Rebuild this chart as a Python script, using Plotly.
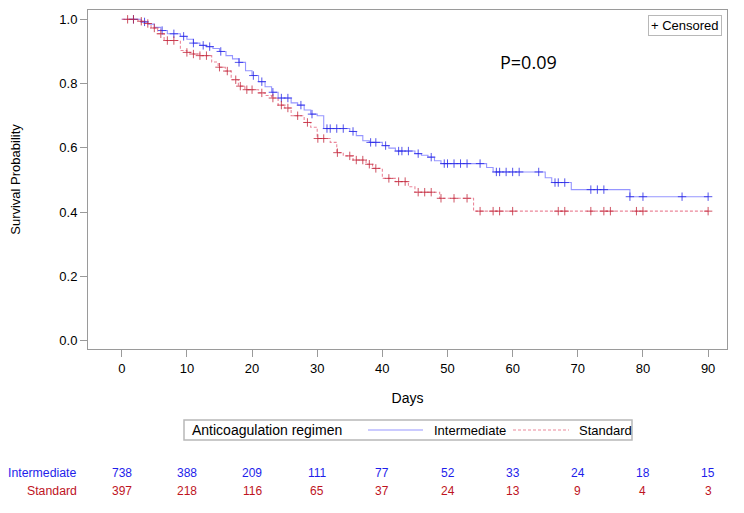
import numpy as np
import plotly.graph_objects as go

# ---------------- data ----------------
day_ticks = [0, 10, 20, 30, 40, 50, 60, 70, 80, 90]
y_ticks = [0.0, 0.2, 0.4, 0.6, 0.8, 1.0]

int_event_days = [0, 3, 4, 5, 6, 7, 9, 10, 11, 12, 13, 14, 15, 16, 17, 18, 19, 20,
                  21, 22, 23, 24, 26, 27, 28, 29, 30, 31, 35, 36, 37, 38, 40, 41, 42,
                  45, 46, 47, 48, 49, 56, 57, 65, 66, 69, 78]
int_event_surv = [1.0, 0.992, 0.985, 0.975, 0.965, 0.955, 0.947, 0.938, 0.926, 0.919,
                  0.915, 0.909, 0.900, 0.887, 0.877, 0.866, 0.840, 0.825, 0.806, 0.790,
                  0.773, 0.755, 0.740, 0.733, 0.718, 0.705, 0.700, 0.660, 0.651, 0.638,
                  0.622, 0.617, 0.607, 0.599, 0.590, 0.582, 0.577, 0.571, 0.560, 0.551,
                  0.539, 0.525, 0.507, 0.492, 0.470, 0.448]
int_censor_days = [1.8, 3.5, 6.2, 8.0, 9.5, 11.0, 12.5, 13.5, 15.2, 18.0, 20.2, 21.5,
                   23.2, 24.5, 25.5, 27.5, 29.2, 31.5, 32, 33, 34, 35.5, 38.2, 39,
                   40.5, 42.5, 43, 44, 45.5, 47.5, 49.5, 50, 51, 52, 53, 55, 57.5, 58,
                   59, 60, 61, 64, 66.5, 67, 68, 72, 73, 74, 78, 80, 86, 90]

std_event_days = [0, 2.5, 3.5, 4.5, 5.5, 6.5, 9, 10, 11, 12, 13.8, 14.8, 15.9, 16.8,
                  17.9, 18.9, 21, 22, 23, 24, 25, 26, 28, 29, 30, 32, 33, 34, 35.5,
                  37.5, 38.5, 40, 42, 44, 45, 48.8, 54]
std_event_surv = [1.0, 0.994, 0.987, 0.973, 0.955, 0.934, 0.903, 0.897, 0.892, 0.887,
                  0.867, 0.851, 0.839, 0.812, 0.792, 0.781, 0.771, 0.763, 0.755, 0.733,
                  0.724, 0.700, 0.679, 0.664, 0.629, 0.617, 0.585, 0.575, 0.562, 0.549,
                  0.536, 0.505, 0.495, 0.479, 0.462, 0.443, 0.403]
std_censor_days = [0.9, 1.8, 3.0, 4.0, 5.0, 6.0, 7.0, 8.0, 10.0, 11.0, 12.0, 13.0,
                   15.0, 16.2, 17.5, 18.2, 19.2, 20.0, 21.5, 23.2, 24.5, 25.5, 27.0,
                   28.5, 30.1, 31.0, 33.1, 35.0, 36.0, 37.0, 38.0, 39.0, 41.0, 42.5,
                   43.5, 45.5, 46.5, 47.5, 49.0, 51.0, 53.0, 55.0, 57.0, 58.0, 60.0,
                   67.0, 68.0, 72.0, 74.0, 75.0, 79.0, 80.0, 90.0]

risk_int = [738, 388, 209, 111, 77, 52, 33, 24, 18, 15]
risk_std = [397, 218, 116, 65, 37, 24, 13, 9, 4, 3]

group_names = ["Intermediate", "Standard"]
legend_title = "Anticoagulation regimen"
end_day = 90
p_text = "P=0.09"

# ---------------- helpers ----------------
def surv_at(days, surv, t):
    idx = np.searchsorted(np.array(days), t, side="right") - 1
    return [surv[i] for i in np.atleast_1d(idx)]

BLUE_LINE = "rgba(80,80,255,0.6)"
BLUE_MARK = "rgba(40,40,230,0.8)"
RED_LINE = "rgba(225,70,100,0.65)"
RED_MARK = "rgba(195,40,60,0.8)"
BLUE_TXT = "rgb(30,30,235)"
RED_TXT = "rgb(190,20,30)"
GRID = "#9a9a9a"
BOX = "#b8b8b8"
FONT = "Liberation Sans, Arial, sans-serif"

fig = go.Figure()

fig.add_trace(go.Scatter(
    x=int_event_days + [end_day], y=int_event_surv + [int_event_surv[-1]],
    mode="lines", line=dict(color=BLUE_LINE, width=1.1, shape="hv"),
    name=group_names[0], showlegend=False))
fig.add_trace(go.Scatter(
    x=std_event_days + [end_day], y=std_event_surv + [std_event_surv[-1]],
    mode="lines", line=dict(color=RED_LINE, width=1.1, shape="hv", dash="3px,2px"),
    name=group_names[1], showlegend=False))

fig.add_trace(go.Scatter(
    x=int_censor_days, y=surv_at(int_event_days, int_event_surv, int_censor_days),
    mode="markers", marker=dict(symbol="cross-thin", size=6,
                                line=dict(color=BLUE_MARK, width=1)),
    showlegend=False, hoverinfo="skip"))
fig.add_trace(go.Scatter(
    x=std_censor_days, y=surv_at(std_event_days, std_event_surv, std_censor_days),
    mode="markers", marker=dict(symbol="cross-thin", size=6,
                                line=dict(color=RED_MARK, width=1)),
    showlegend=False, hoverinfo="skip"))

# target plot area on screen (page has 8px body margin): x 88..727, y 10..349
OFF = 8
PX0, PX1, PY0, PY1 = 88, 727, 10, 349
W, Hh = 744 - OFF, 513 - OFF
L = PX0 - OFF
T = PY0 - OFF
R = W - (PX1 - OFF)
B = Hh - (PY1 - OFF)
PW = PX1 - PX0
PH = PY1 - PY0

def px(p):
    return (p - PX0) / PW

def py(p):
    return (PY1 - p) / PH

def txt(text, x, y, xanchor="center", size=13, color="black", xref="paper", **kw):
    return dict(text=text, x=x, y=y, xref=xref, yref="paper", showarrow=False,
                xanchor=xanchor, yanchor="middle",
                font=dict(family=kw.pop("family", FONT), size=size, color=color), **kw)

annotations = [
    txt(p_text, px(528), py(62), size=18, family="Open Sans, Noto Sans, sans-serif"),
    txt("+ Censored", px(684.5), py(25.7), size=13, bordercolor=BOX, borderwidth=1,
        borderpad=2, bgcolor="white"),
    txt(group_names[0], px(79), py(473.3), xanchor="right", size=12.3, color=BLUE_TXT),
    txt(group_names[1], px(79), py(490.7), xanchor="right", size=12.3, color=RED_TXT),
    txt(legend_title, px(190), py(430), xanchor="left", size=14),
    txt(group_names[0], px(432), py(430), xanchor="left", size=13),
    txt(group_names[1], px(577), py(430), xanchor="left", size=13),
]
for d, n in zip(day_ticks, risk_int):
    annotations.append(txt(str(n), d, py(473.3), size=12, color=BLUE_TXT, xref="x"))
for d, n in zip(day_ticks, risk_std):
    annotations.append(txt(str(n), d, py(490.7), size=12, color=RED_TXT, xref="x"))

shapes = [
    dict(type="rect", xref="paper", yref="paper", x0=px(184), x1=px(632),
         y0=py(440), y1=py(420), line=dict(color=BOX, width=1.5), fillcolor="white"),
    dict(type="line", xref="paper", yref="paper", x0=px(368), x1=px(423),
         y0=py(430), y1=py(430), line=dict(color=BLUE_LINE, width=1.1)),
    dict(type="line", xref="paper", yref="paper", x0=px(513), x1=px(569),
         y0=py(430), y1=py(430), line=dict(color=RED_LINE, width=1.1, dash="3px,2px")),
]

fig.update_layout(
    width=W, height=Hh,
    margin=dict(l=L, r=R, t=T, b=B, autoexpand=False),
    paper_bgcolor="white", plot_bgcolor="white",
    font=dict(family=FONT, size=13, color="black"),
    annotations=annotations, shapes=shapes, showlegend=False,
    xaxis=dict(range=[-5.18, 92.9], tickvals=day_ticks, ticks="outside", ticklen=7,
               tickcolor=GRID, showline=True, linecolor=GRID, mirror=True,
               showgrid=False, zeroline=False, tickfont=dict(size=13), automargin=False,
               title=dict(text="Days", standoff=18, font=dict(size=14))),
    yaxis=dict(range=[-0.026, 1.029], tickvals=y_ticks, tickformat=".1f",
               ticks="outside", ticklen=7, tickcolor=GRID, showline=True,
               linecolor=GRID, mirror=True, showgrid=False, zeroline=False,
               tickfont=dict(size=13), automargin=False,
               title=dict(text="Survival Probability", standoff=35, font=dict(size=13))),
)

fig.write_html("out.html")
